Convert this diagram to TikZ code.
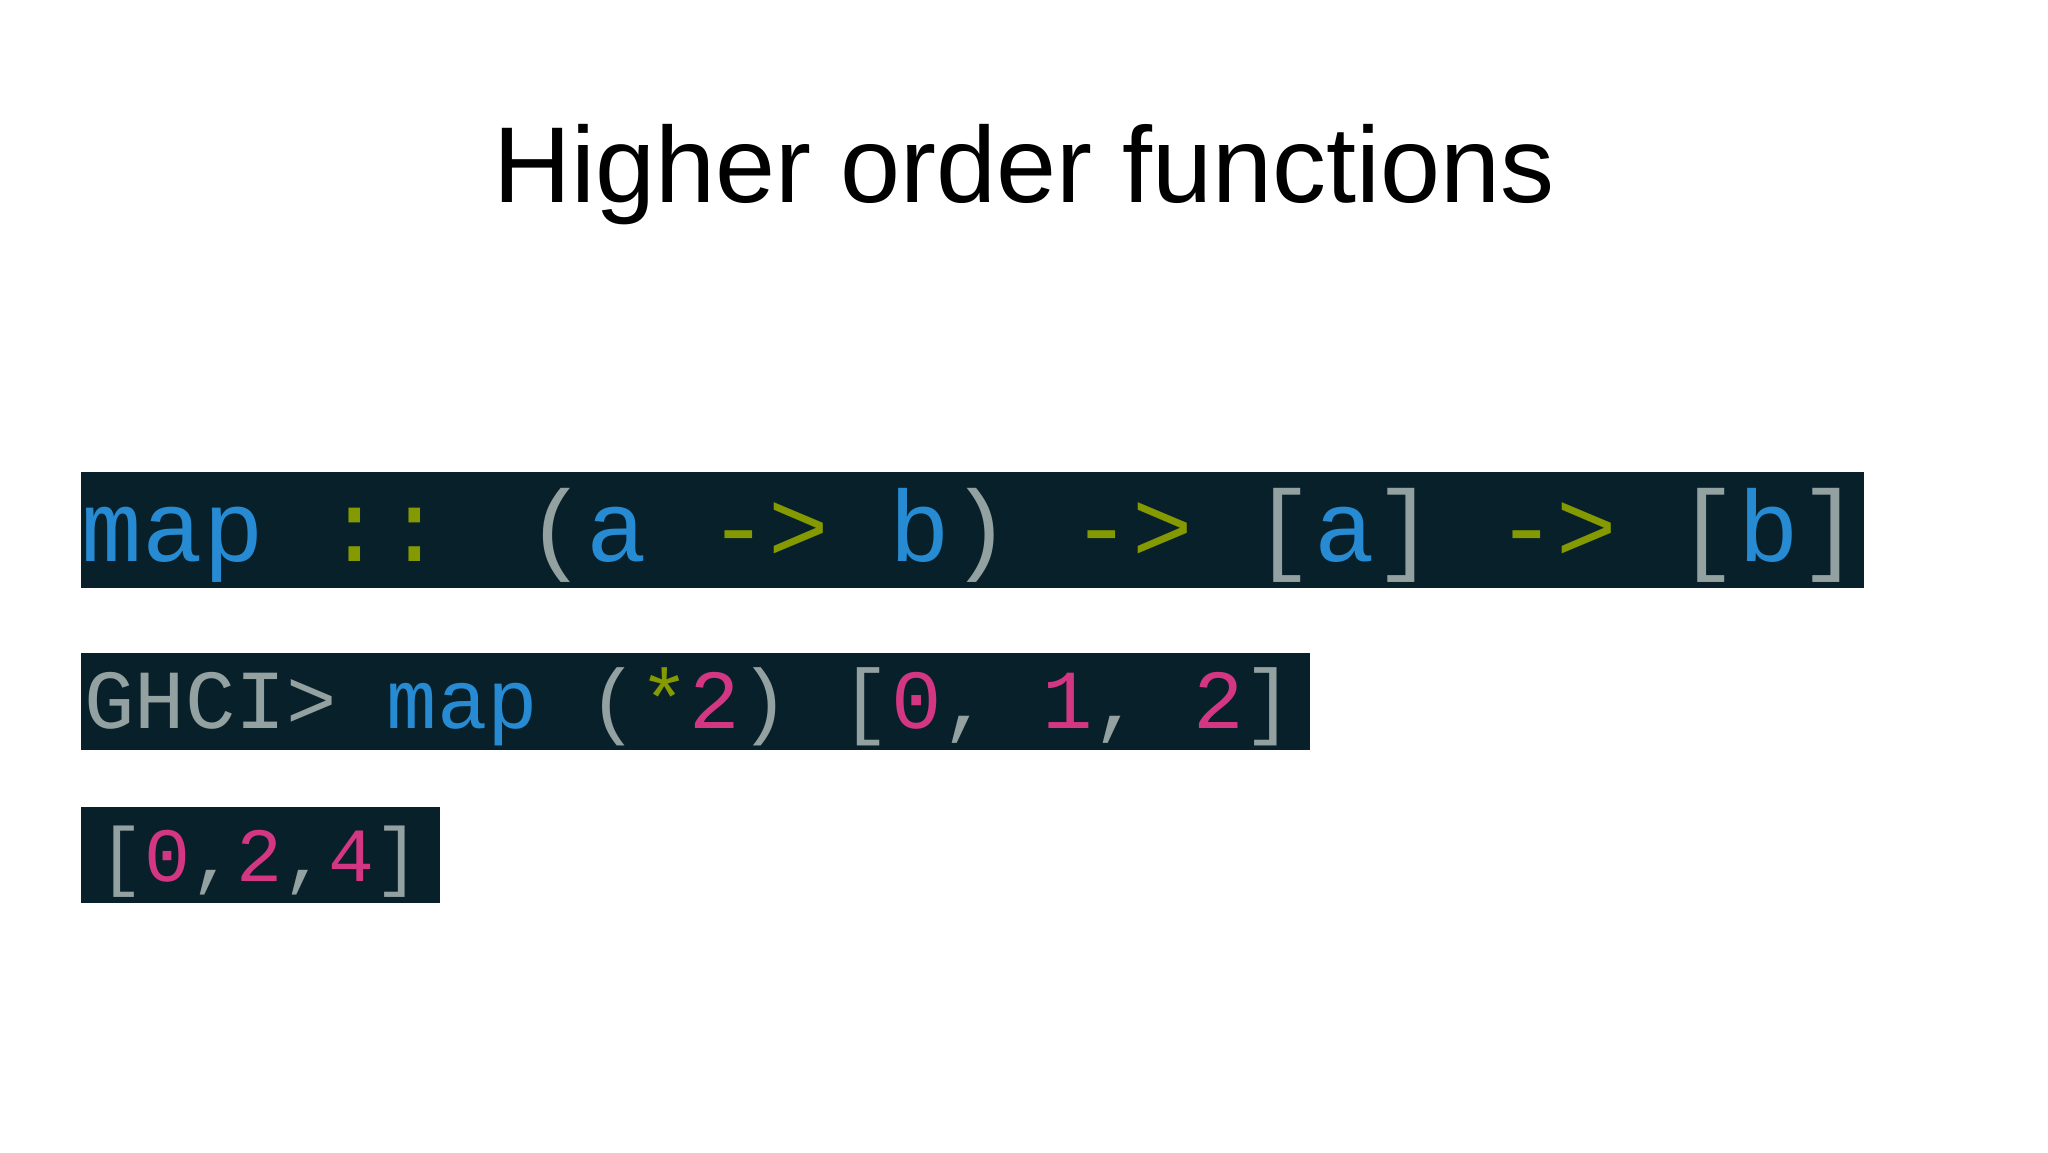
\documentclass[tikz,border=0pt]{standalone}
\usepackage{fontspec}
\setmainfont{Liberation Sans}
\newfontfamily\codefont{Liberation Mono}
\definecolor{codebg}{HTML}{07202A}
\definecolor{cblue}{HTML}{268BD2}
\definecolor{cgreen}{HTML}{859900}
\definecolor{cpink}{HTML}{D33682}
\definecolor{cgrey}{HTML}{93A1A1}
\newcommand{\B}[1]{\textcolor{cblue}{#1}}
\newcommand{\G}[1]{\textcolor{cgreen}{#1}}
\newcommand{\Pk}[1]{\textcolor{cpink}{#1}}
\newcommand{\Gr}[1]{\textcolor{cgrey}{#1}}
\begin{document}
\begin{tikzpicture}[x=1cm,y=1cm,
  bar/.style={fill=codebg,draw=none},
  code/.style={anchor=base west,inner sep=0pt,text=cgrey}]
\useasboundingbox[fill=white] (0,0) rectangle (15.68,8.82);
\node[anchor=base,inner sep=0pt,font=\fontsize{23.5}{28}\selectfont] (title) at (7.84,7.27) {Higher order functions};
\fill[bar] (0.62,4.32) rectangle (14.27,5.21);
\fill[bar] (0.62,3.08) rectangle (10.03,3.82);
\fill[bar] (0.62,1.91) rectangle (3.37,2.64);
\node[code,font=\codefont\fontsize{22}{26}\selectfont] (sig) at (0.62,4.52)
 {\B{map} \G{::} \Gr{(}\B{a} \G{->} \B{b}\Gr{)} \G{->} \Gr{[}\B{a}\Gr{]} \G{->} \Gr{[}\B{b}\Gr{]}};
\node[code,font=\codefont\fontsize{18.3}{22}\selectfont] (cmd) at (0.64,3.24)
 {\Gr{GHCI>} \B{map} \Gr{(}\G{*}\Pk{2}\Gr{)} \Gr{[}\Pk{0}\Gr{,} \Pk{1}\Gr{,} \Pk{2}\Gr{]}};
\node[code,font=\codefont\fontsize{16.7}{20}\selectfont] (res) at (0.75,2.07)
 {\Gr{[}\Pk{0}\Gr{,}\Pk{2}\Gr{,}\Pk{4}\Gr{]}};
\end{tikzpicture}
\end{document}
